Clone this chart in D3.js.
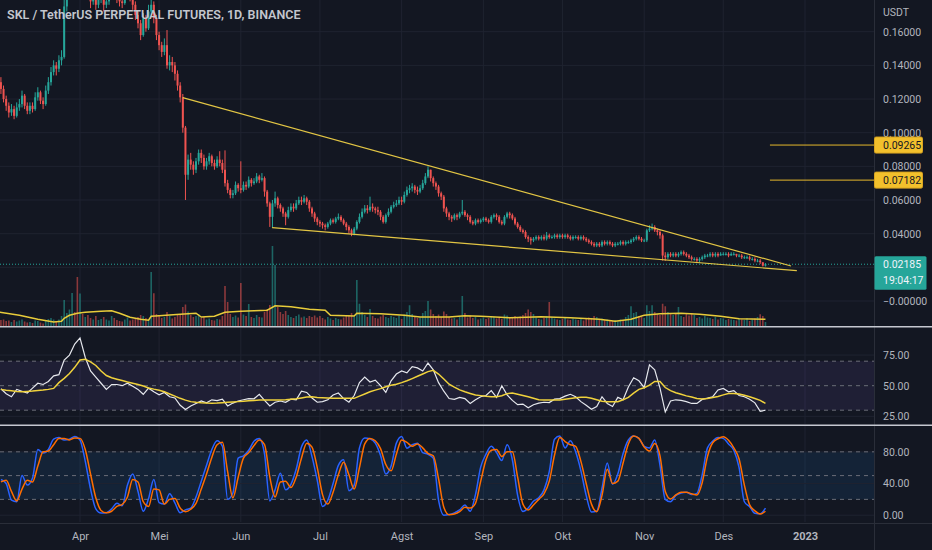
<!DOCTYPE html>
<html>
<head>
<meta charset="utf-8">
<script src="https://cdn.jsdelivr.net/npm/d3@7"></script>
<style>
  html, body { margin: 0; padding: 0; background: #131722; overflow: hidden; }
  svg { display: block; }
  text { font-family: Roboto, "Noto Sans", sans-serif; }
</style>
</head>
<body>
<svg id="chart" width="932" height="550"></svg>
<script>
// ---- data (daily candles from 1 Mar 2022, open = previous close) ----
const title = "SKL / TetherUS PERPETUAL FUTURES, 1D, BINANCE";
const firstDay = new Date(Date.UTC(2022, 2, 1));
const firstOpen = 0.136;

const closes = [
  .130,.126,.120,.116,.112,.114,.110,.115,.117,.122,
  .116,.113,.116,.114,.121,.124,.119,.117,.125,.130,
  .136,.140,.138,.143,.145,.175,.190,.200,.212,.205,
  .195,.195,.188,.192,.183,.178,.182,.176,.179,.181,
  .176,.178,.182,.186,.184,.180,.178,.177,.182,.185,
  .180,.176,.170,.165,.158,.168,.162,.172,.176,.168,
  .158,.152,.148,.152,.140,.142,.140,.135,.128,.121,
  .103,.075,.084,.081,.078,.083,.088,.085,.080,.083,
  .086,.082,.080,.084,.082,.078,.070,.066,.063,.064,
  .069,.067,.066,.069,.068,.072,.070,.071,.074,.072,
  .073,.065,.058,.050,.058,.061,.057,.055,.052,.050,
  .054,.056,.055,.058,.060,.059,.061,.059,.055,.052,
  .049,.047,.046,.045,.044,.046,.048,.047,.049,.050,
  .048,.046,.044,.042,.040,.043,.047,.050,.053,.055,
  .054,.056,.055,.054,.053,.050,.047,.051,.053,.056,
  .057,.058,.060,.059,.063,.066,.067,.068,.066,.065,
  .067,.070,.074,.078,.073,.070,.068,.064,.062,.055,
  .052,.050,.049,.051,.050,.052,.053,.051,.050,.047,
  .046,.048,.047,.048,.049,.048,.047,.050,.051,.050,
  .047,.046,.050,.052,.051,.049,.046,.044,.042,.041,
  .038,.037,.036,.037,.038,.037,.038,.037,.039,.038,
  .038,.039,.038,.039,.038,.039,.038,.037,.038,.038,
  .037,.038,.037,.036,.035,.034,.033,.034,.033,.035,
  .034,.035,.034,.033,.034,.034,.035,.034,.035,.035,
  .036,.037,.038,.037,.036,.036,.042,.043,.044,.042,
  .041,.039,.027,.026,.028,.027,.028,.027,.028,.029,
  .028,.027,.026,.025,.025,.024,.025,.026,.027,.027,
  .028,.027,.028,.027,.028,.028,.028,.027,.028,.028,
  .027,.027,.026,.026,.026,.025,.025,.024,.024,.023,
  .021,.02185
];
const highs = [
  .140,.133,.128,.122,.118,.117,.116,.118,.120,.125,
  .123,.118,.118,.118,.124,.127,.125,.121,.128,.133,
  .139,.143,.142,.146,.149,.180,.198,.210,.220,.216,
  .208,.202,.198,.196,.194,.186,.185,.184,.182,.184,
  .183,.181,.185,.190,.189,.186,.182,.181,.185,.189,
  .187,.182,.178,.172,.167,.171,.170,.176,.182,.178,
  .170,.160,.154,.156,.161,.146,.145,.142,.137,.130,
  .123,.104,.087,.088,.083,.085,.090,.090,.087,.085,
  .088,.087,.084,.086,.089,.084,.0895,.072,.067,.066,
  .071,.070,.083,.071,.071,.074,.073,.073,.076,.075,
  .076,.074,.066,.059,.060,.065,.062,.058,.056,.053,
  .056,.058,.058,.060,.062,.062,.063,.062,.060,.056,
  .053,.050,.048,.047,.046,.047,.049,.049,.050,.052,
  .051,.049,.047,.045,.043,.044,.048,.052,.055,.057,
  .057,.062,.058,.056,.056,.054,.051,.052,.055,.057,
  .059,.060,.062,.062,.065,.068,.069,.070,.069,.068,
  .069,.072,.076,.080,.078,.074,.071,.069,.065,.063,
  .056,.053,.051,.052,.052,.053,.060,.054,.052,.051,
  .048,.049,.049,.049,.050,.050,.049,.051,.052,.052,
  .051,.048,.051,.053,.053,.052,.050,.047,.045,.043,
  .042,.039,.038,.038,.039,.039,.039,.0395,.041,.040,
  .039,.040,.040,.040,.040,.040,.040,.039,.039,.039,
  .039,.039,.039,.038,.037,.036,.035,.035,.035,.036,
  .036,.036,.036,.035,.035,.035,.036,.036,.036,.036,
  .037,.038,.039,.039,.038,.037,.043,.045,.046,.045,
  .043,.042,.040,.029,.029,.029,.029,.029,.029,.030,
  .030,.029,.028,.027,.026,.026,.026,.027,.028,.028,
  .029,.029,.029,.029,.029,.029,.029,.029,.029,.029,
  .028,.028,.028,.027,.027,.027,.026,.026,.025,.025,
  .023,.0225
];
const lows = [
  .128,.123,.118,.113,.109,.110,.108,.109,.113,.115,
  .114,.111,.111,.112,.113,.119,.117,.114,.116,.123,
  .128,.134,.134,.136,.140,.144,.172,.185,.196,.198,
  .188,.186,.184,.185,.180,.174,.176,.173,.174,.177,
  .172,.174,.176,.180,.181,.177,.175,.174,.176,.180,
  .178,.173,.167,.162,.155,.157,.160,.161,.170,.165,
  .155,.149,.145,.146,.138,.137,.136,.131,.125,.118,
  .100,.060,.072,.078,.075,.076,.081,.082,.078,.078,
  .081,.080,.078,.079,.080,.076,.068,.064,.061,.061,
  .063,.065,.064,.065,.066,.067,.068,.069,.070,.070,
  .071,.062,.056,.044,.0434,.056,.055,.053,.050,.045,
  .049,.053,.053,.054,.057,.057,.058,.057,.053,.050,
  .047,.045,.044,.043,.042,.043,.045,.046,.046,.048,
  .047,.045,.042,.040,.0385,.039,.042,.046,.049,.052,
  .052,.053,.053,.052,.051,.048,.046,.046,.050,.052,
  .055,.056,.057,.057,.058,.062,.064,.065,.064,.063,
  .064,.066,.069,.073,.071,.068,.066,.062,.060,.053,
  .050,.048,.047,.048,.048,.049,.051,.050,.048,.046,
  .045,.045,.046,.046,.047,.047,.046,.046,.049,.048,
  .046,.045,.045,.049,.049,.048,.045,.043,.041,.040,
  .037,.035,.0335,.035,.036,.036,.036,.036,.036,.037,
  .037,.037,.037,.037,.037,.037,.037,.036,.036,.037,
  .036,.036,.036,.035,.034,.033,.032,.032,.032,.032,
  .033,.033,.033,.032,.032,.033,.033,.033,.033,.034,
  .034,.035,.036,.036,.035,.035,.035,.041,.042,.041,
  .039,.037,.024,.0238,.025,.026,.026,.026,.026,.027,
  .027,.026,.025,.024,.024,.023,.023,.024,.025,.026,
  .026,.026,.026,.026,.027,.027,.027,.026,.027,.027,
  .026,.026,.025,.025,.025,.024,.024,.023,.023,.022,
  .0205,.0205
];
// volume in millions
const volumes = [
  34,28,30,24,26,20,28,22,26,30, 22,18,20,16,26,24,18,14,28,32,
  36,30,22,30,44,108,56,70,136,60, 200,134,52,40,48,36,30,44,28,32,
  40,30,26,44,36,28,24,22,30,38, 26,30,34,40,48,44,36,30,220,135,
  52,44,36,40,60,44,34,40,48,52, 80,90,62,48,40,44,52,36,40,30,
  34,28,26,32,30,44,164,100,52,40, 46,38,176,50,44,92,40,36,48,40,
  38,60,72,88,324,248,80,60,52,64, 48,40,36,44,50,38,42,36,44,40,
  46,38,44,36,30,40,34,28,36,32, 30,38,44,48,56,42,188,93,60,48,
  40,72,44,36,34,42,48,40,36,44, 40,36,46,32,50,60,87,52,40,36,
  38,56,64,104,70,52,44,50,40,62, 52,40,34,36,30,40,124,56,38,46,
  36,40,30,34,38,32,36,44,40,34, 38,32,50,46,36,40,44,38,42,48,
  56,70,60,52,38,32,30,36,44,100, 40,34,30,28,32,36,30,28,34,30,
  28,32,26,34,38,36,44,40,30,34, 28,30,26,24,28,22,30,26,40,48,
  83,56,60,44,40,36,87,64,87,60, 52,48,93,83,60,56,48,54,80,44,
  40,52,46,56,48,36,40,34,44,38, 36,32,40,30,36,34,28,32,30,28,
  26,34,30,28,36,24,30,34,40,51, 44,20
];
// volume moving average: [day, value]
const volMa = [
  [0,60],[8,47],[15,31],[21,20],[24,23],[25,35],[27,47],[30,55],[33,59],[39,63],
  [43,65],[46,55],[50,39],[54,31],[57,27],[58,43],[61,45],[69,51],[75,55],[77,40],
  [82,43],[86,59],[92,63],[97,65],[102,67],[105,85],[111,81],[118,71],[124,67],[126,47],
  [135,44],[136,55],[145,53],[154,47],[160,40],[171,40],[177,45],[183,43],[194,37],[206,41],
  [217,37],[228,31],[234,23],[240,31],[245,47],[251,53],[259,55],[266,51],[274,43],[281,33],
  [291,31]
];

// oscillators, one value every 2 days starting at day 1
const SAMPLE_START = 1, SAMPLE_STEP = 2;
const rsi = [
  47.5,43.5,41,47,45.5,44,48,52,51,53.5, 58,59,71,75,84,89,73,62,57,52,
  47,51,51,50,52,49.5,47,43,48,45, 42.5,44.5,41,40,34,30.5,33.5,35.5,37.5,36,
  38.5,37.8,39,33.5,35.8,37.5,38.5,39.5,39.3,43, 38,33.5,36.5,37.5,36.5,39,38.5,45.5,44.5,40,
  36.5,37,38.5,42.4,44,39.5,36.5,42,52.5,57, 53,54.5,50,44.5,54,59.5,62,60.5,65.5,64.5,
  62,68.5,63,52.5,45.5,39.5,38.8,40.5,39.5,35.5, 38.5,41,42,46,40.5,50,42.5,38,34.5,35,
  32,34.5,35.8,36.5,36.2,39,39.5,41.5,43,41, 37,34,30.8,33,41,35.5,33,40.5,38.5,49,
  56.5,54,48.5,67,63,48,28.5,37.5,38.5,38, 37,35.5,35.5,38.8,39.8,41,46.5,47.8,45,46,
  42,41,39,36,29,30
];
const rsiMa = [
  47,46.3,45.8,45.3,45,45.3,45.6,46,46.4,47, 47.8,52.5,56,60,65,71,71.5,69.5,66.5,62,
  58.3,56.5,55.3,54.2,53,52,51,49.7,48.2,47.2, 46.3,45,43.2,41.5,39.7,38.2,37,36.5,36.1,35.8,
  35.6,35.8,36.1,36.4,36.7,37,37.3,37.7,38,38.3, 38.3,38.3,38.3,38.3,38.6,39,39.3,40,40.7,41,
  40.4,40.2,40,39.8,39.7,39.7,39.7,39.7,41.5,43.2, 45,46.4,47.6,49.2,50.3,51.2,52.5,54,55.8,57.7,
  59.6,61.5,62.5,59.5,55.5,51.2,48.8,46.6,45,43.7, 42.4,41.9,41.4,41,41,41.8,43.5,44,43,42,
  41,39.8,38.5,38.3,38.3,38.3,38.3,38.9,39.5,40.1, 40.5,40.5,39.8,38.5,37.3,37,37,37,38.5,40.5,
  44,47,48.3,50.5,53.5,53.5,48.5,46,44.3,43, 41.7,40.8,39.6,39.1,39.5,40.3,41.2,42.5,43.6,43.6,
  43.2,42.2,41,39.6,38,35.5
];
const stochK = [
  45,40,19,17,50,38,47,83,78.5,83, 96,98,95,96,99.5,95,68,33,8,2.7,
  3,8,15,12,38,52,30,5,21,45, 16,14,27,15.5,3,6.7,9,23,43,63,
  83,94,87,20,28,72,75,82,93.5,97, 77,18,32,53,32,39,58,86,95,74,
  44,11,19,40,63,70,31,38,85,97.5, 96.5,91,75.5,52,62,91,99.5,84.5,89,91,
  79,77,72,19,0,0.8,3,6.6,13,5, 26,61,77,87,79,69,89,70,25,4.6,
  9,17.6,22,32,55,96,100,85,94,80, 56,25,4,5,34,66,39,52,78,95,
  100,97,87,85,95,63,20,17,25,28, 29,26,27.6,51,85,93.5,98,97,90,82,
  60,17,10.8,2.4,1.7,9
];
const stochD = [
  42,44,30,18,33,44,42,62,80,81, 89,97,97,95,97.5,97,83,52,22,6,
  3,5,11,13.5,23,45,42,17,11,33, 32,14,20,21,9,4.5,7.5,15,33,52,
  73,89,92,55,22,48,72,79,88,95, 89,48,23,42,43,35,48,72,91,86,
  60,26,14,29,51,67,51,33,60,90, 97,94,84,64,56,77,95,92,87,90,
  85,78,75,46,10,0.5,1.5,4.5,10,9, 15,43,70,82,83,74,80,80,48,14,
  6.5,13,20,27,43,76,98,93,89,87, 68,40,14,4.5,25,58,40,43,66,90,
  100,97,86,81,90.5,75,30,20.5,25.5,29, 29,27,25.5,41,74,91.5,96.5,99,94.5,85,
  71,38,13,5.5,1.5,5
];

// drawings: [day, price]
const upperTrend = [[69.95, 0.1208], [300.7, 0.0208]];
const lowerTrend = [[103.9, 0.04355], [302.9, 0.0180]];
const levelLines = [0.09265, 0.07182];
const levelStartDay = 292.7;
const lastPrice = 0.02185;
const countdown = "19:04:17";

// axes
const monthTicks = ["2022-04-01","2022-05-01","2022-06-01","2022-07-01","2022-08-01",
  "2022-09-01","2022-10-01","2022-11-01","2022-12-01","2023-01-01"];
const monthLabels = ["Apr","Mei","Jun","Jul","Agst","Sep","Okt","Nov","Des","2023"];
const priceTicks = [0.16, 0.14, 0.12, 0.10, 0.08, 0.06, 0.04, 0];
const priceLabels = ["0.16000","0.14000","0.12000","0.10000","0.08000","0.06000","0.04000","\u22120.00000"];
const priceGrid = [0, 0.02, 0.04, 0.06, 0.08, 0.10, 0.12, 0.14, 0.16];
const rsiTicks = [25, 50, 75];
const rsiLevels = [70, 50, 30];
const stochTicks = [0, 40, 80];
const stochLevels = [80, 50, 20];

// ---- layout ----
const axisX = 874;
const mainPane = { top: 0, bottom: 326 };
const rsiPane = { top: 328, bottom: 424 };
const stochPane = { top: 426, bottom: 522 };
const up = "#26a69a", down = "#ef5350";
const textColor = "#b2b5be", gridColor = "#1f2330";

const svg = d3.select("#chart");
const dayToDate = d => new Date(firstDay.getTime() + d * 86400000);
const sampleDate = k => dayToDate(SAMPLE_START + SAMPLE_STEP * k);

const x = d3.scaleUtc()
  .domain([new Date(Date.UTC(2022, 3, 1)), new Date(Date.UTC(2023, 0, 1))])
  .range([80, 805]);
const y = d3.scaleLinear().domain([0, 0.16]).range([301, 31.7]);
const yVol = d3.scaleLinear().domain([0, 400]).range([327, 227]);
const yRsi = d3.scaleLinear().domain([30, 70]).range([410.2, 361.2]);
const yStoch = d3.scaleLinear().domain([0, 100]).range([515.2, 436]);

svg.append("rect").attr("width", 932).attr("height", 550).attr("fill", "#131722");

const defs = svg.append("defs");
[["clipMain", mainPane], ["clipRsi", rsiPane], ["clipStoch", stochPane]].forEach(([id, p]) => {
  defs.append("clipPath").attr("id", id).append("rect")
    .attr("x", 0).attr("y", p.top).attr("width", axisX).attr("height", p.bottom - p.top);
});

const monthDates = monthTicks.map(s => new Date(s + "T00:00:00Z"));

// vertical grid in every pane
[mainPane, rsiPane, stochPane].forEach(p => {
  svg.append("g").selectAll("line").data(monthDates).join("line")
    .attr("x1", d => x(d)).attr("x2", d => x(d))
    .attr("y1", p.top).attr("y2", p.bottom)
    .attr("stroke", gridColor).attr("stroke-width", 1);
});

// ---- main pane ----
const mainG = svg.append("g").attr("clip-path", "url(#clipMain)");
mainG.append("g").selectAll("line").data(priceGrid).join("line")
  .attr("x1", 0).attr("x2", axisX).attr("y1", d => y(d)).attr("y2", d => y(d))
  .attr("stroke", gridColor);

const candles = closes.map((c, i) => ({
  date: dayToDate(i),
  open: i ? closes[i - 1] : firstOpen,
  high: highs[i], low: lows[i], close: c, volume: volumes[i]
}));
const colorOf = d => d.close >= d.open ? up : down;

// volume
mainG.append("g").selectAll("rect").data(candles).join("rect")
  .attr("x", d => x(d.date) - 0.8).attr("width", 1.6)
  .attr("y", d => yVol(d.volume)).attr("height", d => yVol(0) - yVol(d.volume))
  .attr("fill", colorOf).attr("opacity", 0.55);
mainG.append("path").datum(volMa)
  .attr("d", d3.line().x(d => x(dayToDate(d[0]))).y(d => yVol(d[1])))
  .attr("fill", "none").attr("stroke", "#e8cc3a").attr("stroke-width", 1.5);

// last price dotted line
mainG.append("line").attr("x1", 0).attr("x2", axisX)
  .attr("y1", y(lastPrice)).attr("y2", y(lastPrice))
  .attr("stroke", up).attr("stroke-dasharray", "1 2").attr("stroke-width", 1);

// candles
const cg = mainG.append("g");
cg.selectAll("line").data(candles).join("line")
  .attr("x1", d => x(d.date)).attr("x2", d => x(d.date))
  .attr("y1", d => y(d.high)).attr("y2", d => y(d.low))
  .attr("stroke", colorOf).attr("stroke-width", 1);
cg.selectAll("rect").data(candles).join("rect")
  .attr("x", d => x(d.date) - 1).attr("width", 2)
  .attr("y", d => y(Math.max(d.open, d.close)))
  .attr("height", d => Math.max(1, Math.abs(y(d.open) - y(d.close))))
  .attr("fill", colorOf);

// trend lines and levels
const trend = d3.line().x(d => x(dayToDate(d[0]))).y(d => y(d[1]));
[upperTrend, lowerTrend].forEach(t => {
  mainG.append("path").datum(t).attr("d", trend)
    .attr("fill", "none").attr("stroke", "#e2c544").attr("stroke-width", 1.2);
});
svg.append("g").selectAll("line").data(levelLines).join("line")
  .attr("x1", x(dayToDate(levelStartDay))).attr("x2", axisX)
  .attr("y1", d => y(d)).attr("y2", d => y(d))
  .attr("stroke", "#e5b82c").attr("stroke-width", 1);

svg.append("text").attr("x", 7).attr("y", 19)
  .attr("fill", "#c3c6ce").attr("font-size", 12.5).attr("font-weight", 600)
  .text(title);

// ---- RSI pane ----
const rsiG = svg.append("g").attr("clip-path", "url(#clipRsi)");
rsiG.append("rect").attr("x", 0).attr("width", axisX)
  .attr("y", yRsi(70)).attr("height", yRsi(30) - yRsi(70))
  .attr("fill", "rgba(126,87,194,0.12)");
rsiG.append("g").selectAll("line").data(rsiTicks).join("line")
  .attr("x1", 0).attr("x2", axisX).attr("y1", d => yRsi(d)).attr("y2", d => yRsi(d))
  .attr("stroke", gridColor);
rsiG.append("g").selectAll("line").data(rsiLevels).join("line")
  .attr("x1", 0).attr("x2", axisX).attr("y1", d => yRsi(d)).attr("y2", d => yRsi(d))
  .attr("stroke", "#6a6d78").attr("stroke-dasharray", "4 4");
const rsiLine = d3.line().x((d, k) => x(sampleDate(k)));
rsiG.append("path").datum(rsi).attr("d", rsiLine.y(d => yRsi(d)))
  .attr("fill", "none").attr("stroke", "#e6e8ee").attr("stroke-width", 1.2);
rsiG.append("path").datum(rsiMa).attr("d", rsiLine.y(d => yRsi(d)))
  .attr("fill", "none").attr("stroke", "#f0d23c").attr("stroke-width", 1.5);

// ---- Stoch RSI pane ----
const stG = svg.append("g").attr("clip-path", "url(#clipStoch)");
stG.append("rect").attr("x", 0).attr("width", axisX)
  .attr("y", yStoch(80)).attr("height", yStoch(20) - yStoch(80))
  .attr("fill", "rgba(33,150,243,0.1)");
stG.append("g").selectAll("line").data(stochTicks).join("line")
  .attr("x1", 0).attr("x2", axisX).attr("y1", d => yStoch(d)).attr("y2", d => yStoch(d))
  .attr("stroke", gridColor);
stG.append("g").selectAll("line").data(stochLevels).join("line")
  .attr("x1", 0).attr("x2", axisX).attr("y1", d => yStoch(d)).attr("y2", d => yStoch(d))
  .attr("stroke", "#6a6d78").attr("stroke-dasharray", "4 4");
const stLine = d3.line().x((d, k) => x(sampleDate(k))).y(d => yStoch(d)).curve(d3.curveMonotoneX);
stG.append("path").datum(stochK).attr("d", stLine)
  .attr("fill", "none").attr("stroke", "#2962ff").attr("stroke-width", 1.5);
stG.append("path").datum(stochD).attr("d", stLine)
  .attr("fill", "none").attr("stroke", "#ff6d00").attr("stroke-width", 1.5);

// ---- separators and frame ----
svg.append("line").attr("x1", axisX + 0.5).attr("x2", axisX + 0.5).attr("y1", 0).attr("y2", 550)
  .attr("stroke", "#2a2e39");
svg.append("line").attr("x1", 0).attr("x2", 932).attr("y1", 523.5).attr("y2", 523.5)
  .attr("stroke", "#2a2e39");
[326.8, 425.2].forEach(v => {
  svg.append("line").attr("x1", 0).attr("x2", 932).attr("y1", v).attr("y2", v)
    .attr("stroke", "#c5c8d0").attr("stroke-width", 1.5);
});

// ---- axes ----
function styleAxis(g) {
  g.select(".domain").remove();
  g.selectAll("text").attr("fill", textColor).attr("font-size", 10.5)
    .style("font-family", "Roboto, 'Noto Sans', sans-serif");
}
svg.append("g").attr("transform", `translate(${axisX},0)`)
  .call(d3.axisRight(y).tickValues(priceTicks).tickSize(0).tickPadding(9)
    .tickFormat((d, i) => priceLabels[i]))
  .call(styleAxis);
svg.append("text").attr("x", axisX + 9).attr("y", 16).attr("fill", textColor)
  .attr("font-size", 10.5).text("USDT");
svg.append("g").attr("transform", `translate(${axisX},0)`)
  .call(d3.axisRight(yRsi).tickValues(rsiTicks).tickSize(0).tickPadding(9)
    .tickFormat(d3.format(".2f")))
  .call(styleAxis);
svg.append("g").attr("transform", `translate(${axisX},0)`)
  .call(d3.axisRight(yStoch).tickValues(stochTicks).tickSize(0).tickPadding(9)
    .tickFormat(d3.format(".2f")))
  .call(styleAxis);
svg.append("g").attr("transform", "translate(0,523)")
  .call(d3.axisBottom(x).tickValues(monthDates).tickSize(0).tickPadding(9)
    .tickFormat((d, i) => monthLabels[i]))
  .call(styleAxis)
  .call(g => g.selectAll("text").attr("font-size", 11)
    .attr("font-weight", (d, i) => monthLabels[i] === "2023" ? 700 : 400));

// ---- price labels on the axis ----
const lvl = svg.append("g").selectAll("g").data(levelLines).join("g")
  .attr("transform", d => `translate(${axisX},${y(d)})`);
lvl.append("rect").attr("x", 0.5).attr("y", -8).attr("width", 48).attr("height", 16)
  .attr("rx", 1.5).attr("fill", "#f2c02c").attr("stroke", "#d9a520");
lvl.append("text").attr("x", 9).attr("dy", "0.35em").attr("fill", "#131722")
  .attr("font-size", 10.5).text(d => d3.format(".5f")(d));

const lp = svg.append("g").attr("transform", `translate(${axisX},${y(lastPrice)})`);
lp.append("rect").attr("x", 0.5).attr("y", -8).attr("width", 52).attr("height", 33.5)
  .attr("rx", 1.5).attr("fill", up);
lp.append("text").attr("x", 9).attr("dy", "0.35em").attr("fill", "#f0f3fa")
  .attr("font-size", 10.5).text(d3.format(".5f")(lastPrice));
lp.append("text").attr("x", 9).attr("y", 16).attr("dy", "0.35em").attr("fill", "#f0f3fa")
  .attr("font-size", 10.5).text(countdown);
</script>
</body>
</html>
